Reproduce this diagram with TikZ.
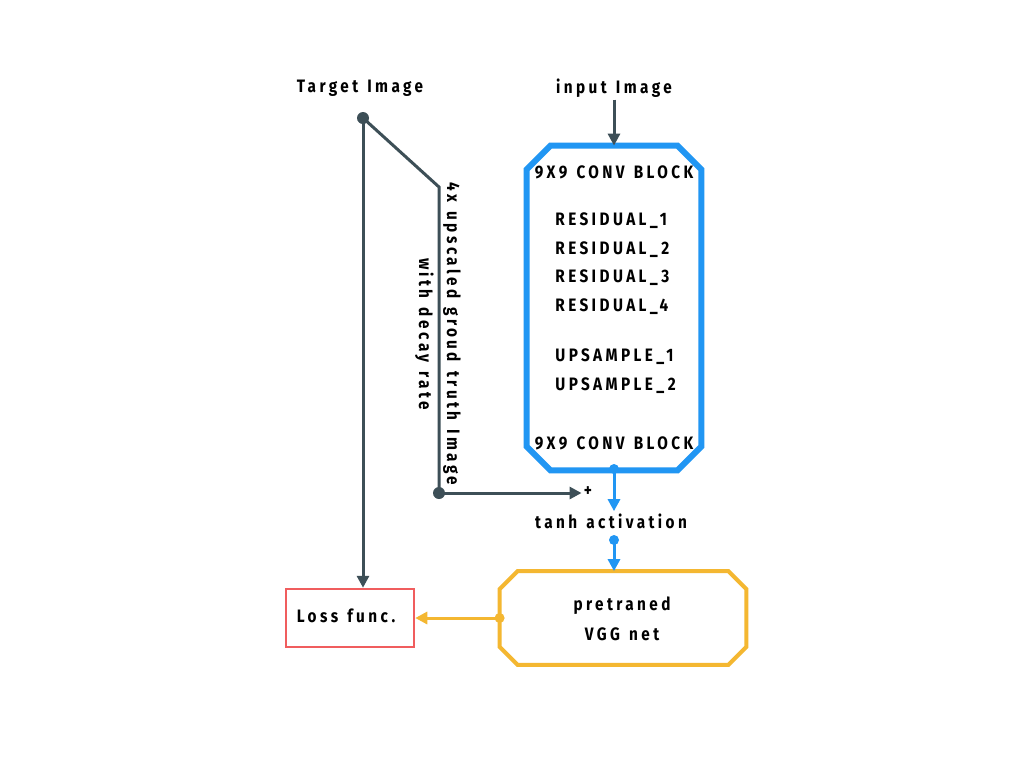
\documentclass[tikz,border=0pt]{standalone}
\usepackage{fontspec}
\setmainfont{Fira Sans}
\newfontfamily\lblfont[LetterSpace=19,FakeStretch=0.85,WordSpace=1.3]{Fira Sans}
\usetikzlibrary{arrows.meta,positioning}
\definecolor{slate}{HTML}{3D4F57}
\definecolor{netblue}{HTML}{2196F3}
\definecolor{vggyellow}{HTML}{F4B731}
\definecolor{lossred}{HTML}{F05D5E}
\tikzset{
  lbl/.style={font=\lblfont\bfseries\fontsize{9}{11}\selectfont, inner sep=1pt},
  darkline/.style={draw=slate, line width=1.5pt},
  darkarrow/.style={darkline, -{Triangle[width=6pt,length=6pt]}},
  bluearrow/.style={draw=netblue, line width=1.5pt, -{Triangle[width=6pt,length=6pt]}},
  yelarrow/.style={draw=vggyellow, line width=1.5pt, -{Triangle[width=6pt,length=6pt]}},
  dot/.style={circle, inner sep=0pt, minimum size=#1},
  dot/.default=6pt,
}
\begin{document}
\begin{tikzpicture}[x=0.5pt,y=-0.5pt]
\useasboundingbox[fill=white] (0,0) rectangle (1024,768);
% Labels on top
\node[lbl] (tgt) at (360,88) {Target Image};
\node[lbl] (inp) at (614,88) {input Image};
% Generator network
\node[minimum width=87pt, minimum height=162pt] (gen) at (614,308) {};
\draw[netblue, line width=3pt, line join=miter]
  ([xshift=12pt]gen.north west) -- ([xshift=-12pt]gen.north east)
  -- ([yshift=-12pt]gen.north east) -- ([yshift=12pt]gen.south east)
  -- ([xshift=-12pt]gen.south east) -- ([xshift=12pt]gen.south west)
  -- ([yshift=12pt]gen.south west) -- ([yshift=-12pt]gen.north west) -- cycle;
\node[lbl] (conv1) at (614,172) {9X9 CONV BLOCK};
\node[lbl, anchor=west] (res1) at (553,221) {RESIDUAL\_1};
\node[lbl, anchor=west] (res2) at (553,250) {RESIDUAL\_2};
\node[lbl, anchor=west] (res3) at (553,278) {RESIDUAL\_3};
\node[lbl, anchor=west] (res4) at (553,307) {RESIDUAL\_4};
\node[lbl, anchor=west] (up1) at (553,357) {UPSAMPLE\_1};
\node[lbl, anchor=west] (up2) at (553,386) {UPSAMPLE\_2};
\node[lbl] (conv2) at (614,443) {9X9 CONV BLOCK};
\draw[darkarrow] (inp) -- (gen);
% Skip connection from target image
\node[dot, fill=slate] (tdot) at (363,118) {};
\coordinate (bend) at (439,187);
\node[dot, fill=slate] (sdot) at (439,493) {};
\node[lbl] (plus) at (588,492) {+};
\node[lbl, rotate=-90, align=center] (skip) at (438,334)
  {4x upscaled groud truth Image\\[3pt]with decay rate};
\draw[darkline] (tdot.center) -- (bend) -- (sdot.center);
\draw[darkarrow] (sdot.center) -- (sdot -| plus.west);
% Output activation
\node[dot=5pt, fill=netblue] (gdot) at (614,469) {};
\node[lbl] (tanh) at (611,521) {tanh activation};
\draw[bluearrow] (gdot.center) -- (tanh.north -| gdot);
\node[dot=5pt, fill=netblue] (adot) at (614,540) {};
% VGG net and loss
\node[minimum width=123pt, minimum height=46.5pt] (vgg) at (623,618) {};
\draw[vggyellow, line width=2pt, line join=miter]
  ([xshift=9pt]vgg.north west) -- ([xshift=-9pt]vgg.north east)
  -- ([yshift=-9pt]vgg.north east) -- ([yshift=9pt]vgg.south east)
  -- ([xshift=-9pt]vgg.south east) -- ([xshift=9pt]vgg.south west)
  -- ([yshift=9pt]vgg.south west) -- ([yshift=-9pt]vgg.north west) -- cycle;
\node[lbl] (vgg1) at (622,606) {pretraned};
\node[lbl] (vgg2) at (622,634) {VGG net};
\draw[bluearrow] (adot.center) -- (adot |- vgg.north);
\node[draw=lossred, line width=1.25pt, minimum width=64pt, minimum height=29pt] (loss) at (350,618) {};
\node[lbl] (lossl) at (346,616) {Loss func.};
\node[dot=5pt, fill=vggyellow] (ydot) at (vgg.west) {};
\draw[yelarrow] (ydot.center) -- (loss.east);
\draw[darkarrow] (tdot.center) -- (tdot |- loss.north);
\end{tikzpicture}
\end{document}
